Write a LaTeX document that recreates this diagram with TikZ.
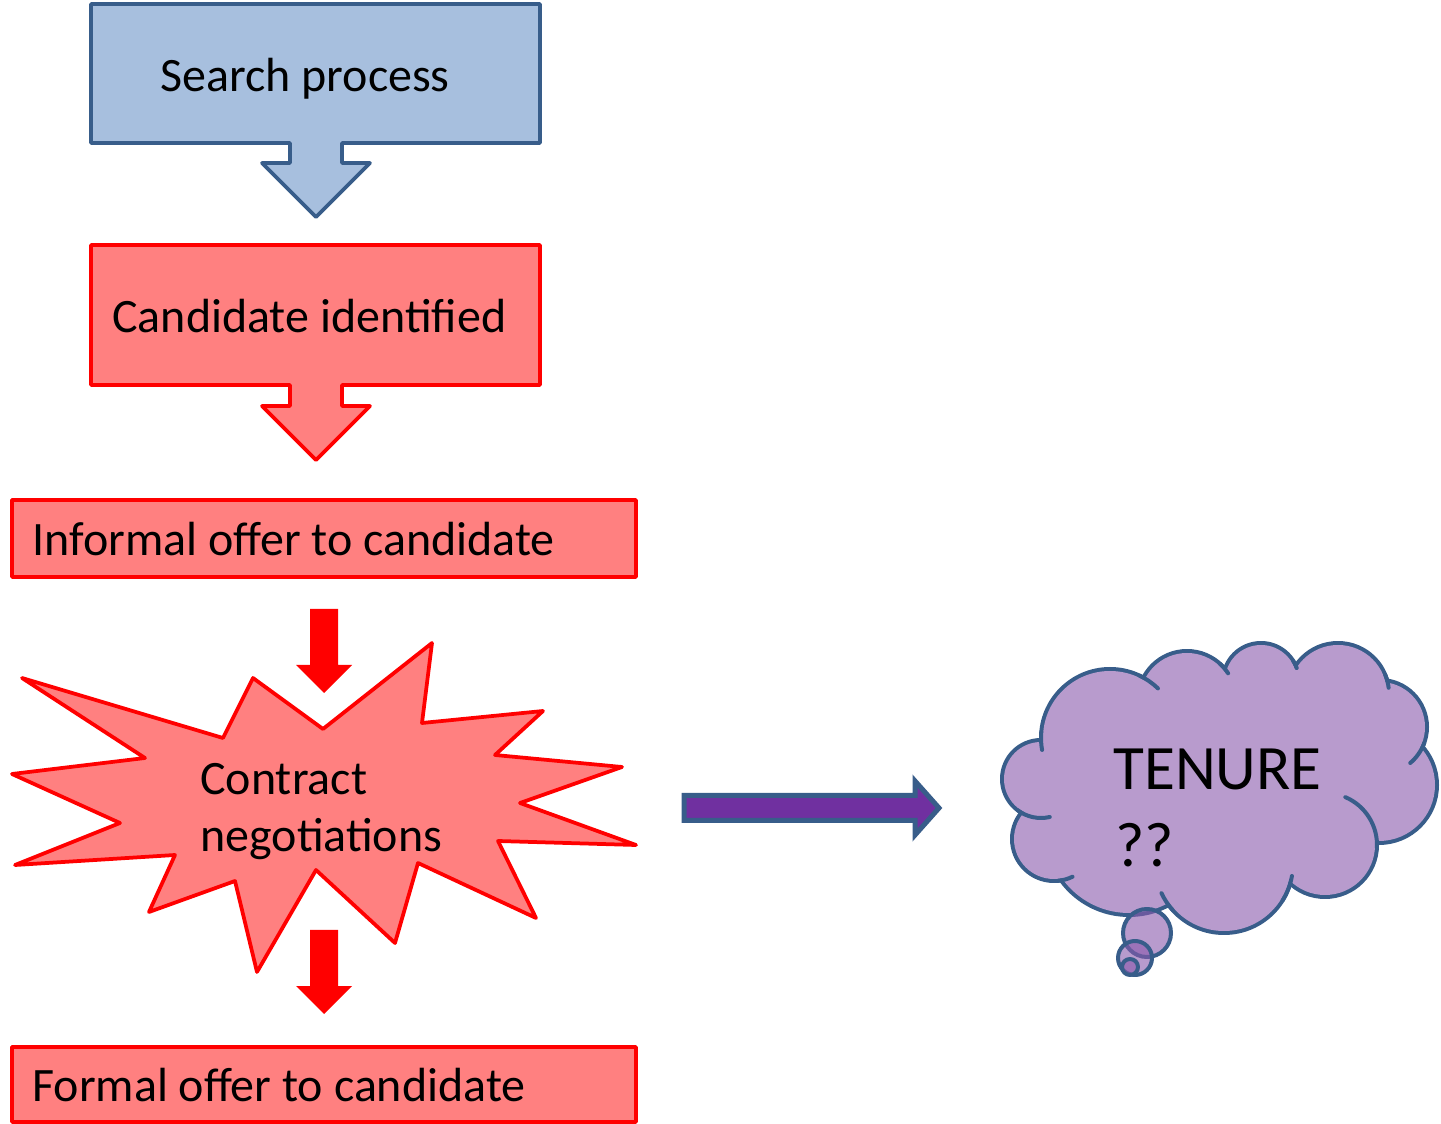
\documentclass[tikz,border=0pt]{standalone}
\usepackage{fontspec}
\setmainfont{Carlito}
\definecolor{bluefill}{RGB}{167,191,222}
\definecolor{blueline}{RGB}{56,93,138}
\definecolor{redfill}{RGB}{255,128,128}
\definecolor{redline}{RGB}{255,0,0}
\definecolor{cloudfill}{RGB}{184,155,205}
\definecolor{bubblefill}{RGB}{137,88,172}
\definecolor{arrowpurple}{RGB}{112,48,160}

\begin{document}
\begin{tikzpicture}[x=0.02cm,y=-0.02cm,line join=round,
  bluebox/.style={draw=blueline,fill=bluefill,line width=0.075cm},
  redbox/.style={draw=redline,fill=redfill,line width=0.075cm},
  lbl/.style={inner sep=0pt,anchor=base west,font=\fontsize{27.3}{33}\selectfont},
  biglbl/.style={lbl,font=\fontsize{36}{42}\selectfont},
  cloudline/.style={draw=blueline,line width=0.08cm,line cap=round}]
\useasboundingbox (0,0) rectangle (1441,1124);
% boxes with their block arrows
\draw[bluebox] (91,4)--(540,4)--(540,143)--(342,143)--(342,163)--(370,163)--(316,217)--(262,163)--(290,163)--(290,143)--(91,143)--cycle;
\draw[redbox] (91,245)--(540,245)--(540,385)--(342,385)--(342,406)--(370,406)--(316,460)--(262,406)--(290,406)--(290,385)--(91,385)--cycle;
\draw[redbox] (12,500) rectangle (636,577);
\draw[redbox] (12,1047) rectangle (636,1122);
\foreach \y in {609,930}{\fill[redline] (310,\y)--++(28,0)--++(0,56)--++(14,0)--++(-28,28)--++(-28,-28)--++(14,0)--cycle;}
% explosion
\draw[redbox] (22,678)--(223,738)--(253,678)--(323,729)--(432,643)--(422,723)--(543,711)--(495,755)--(622,767)--(520,803)--(636,845)--(498,841)--(536,918)--(418,863)--(395,943)--(316,870)--(257,972)--(235,881)--(149,912)--(175,855)--(15,865)--(120,823)--(12,774)--(145,758)--cycle;
% arrow to the cloud
\draw[draw=blueline,fill=arrowpurple,line width=0.1cm,line join=miter] (684,795.5)--(915,795.5)--(915,781)--(939,808)--(915,835)--(915,820.5)--(684,820.5)--cycle;
% cloud
\foreach \cx/\cy/\r in {1110/738/69,1187/700/49,1261/681/38,1338/694/51,1380/727/47,1379/785/58,1325/845/52,1224/864/69,1129/831/84,1054/839/42,1041/779/39}
  \draw[blueline,line width=0.16cm] (\cx,\cy) circle (\r-2);
\foreach \cx/\cy/\r in {1110/738/69,1187/700/49,1261/681/38,1338/694/51,1380/727/47,1379/785/58,1325/845/52,1224/864/69,1129/831/84,1054/839/42,1041/779/39}
  \fill[cloudfill] (\cx,\cy) circle (\r-2);
\fill[cloudfill] (1110,738)--(1187,700)--(1261,681)--(1338,694)--(1380,727)--(1379,785)--(1325,845)--(1224,864)--(1129,831)--(1054,839)--(1041,779)--cycle;
\foreach \cx/\cy/\r/\a/\b in {1110/738/69/-175/-190,1110/738/69/-65/-46,1187/700/49/-48/-33,1261/681/38/-32/-20,1338/694/51/-22/-7,1380/727/47/20/50,1325/845/52/3/-67,1224/864/69/32/10,1224/864/69/138/155,1054/839/42/85/64,1041/779/39/127/77}
  \draw[cloudline] (\cx,\cy) ++(\a:\r) arc[start angle=\a,end angle=\b,radius=\r];
\foreach \cx/\cy/\r in {1147/933/24,1135/958/17,1130/967/8}
  \draw[cloudline,fill=bubblefill,fill opacity=0.6] (\cx,\cy) circle (\r);
% labels
\node[lbl] (srch) at (160,92) {Search process};
\node[lbl] (cand) at (112,333) {Candidate identified};
\node[lbl] (infm) at (32,556) {Informal offer to candidate};
\node[lbl] (ctr1) at (200,795) {Contract};
\node[lbl] (ctr2) at (200,852) {negotiations};
\node[lbl] (form) at (32,1101) {Formal offer to candidate};
\node[biglbl] (ten) at (1113,790) {TENURE};
\node[biglbl] (qq) at (1115,867) {??};
\end{tikzpicture}
\end{document}
